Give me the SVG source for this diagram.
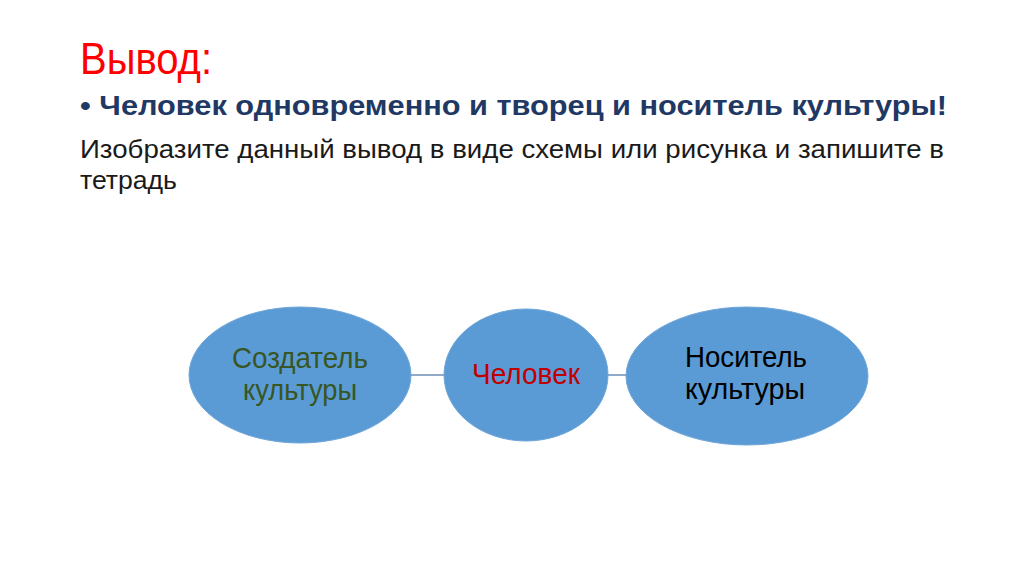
<svg xmlns="http://www.w3.org/2000/svg" width="1024" height="574" viewBox="0 0 1024 574">
<style>
text{font-family:"Liberation Sans","Noto Sans",sans-serif}
.node{fill:#5b9bd5;stroke:#6fa6d8;stroke-width:1}
.lbl{font-size:29px}
.conn{stroke:#6a8db3;stroke-width:1.5}
</style>
<rect width="1024" height="574" fill="#ffffff"/>
<text x="80" y="74" font-size="45" fill="#ff0000" textLength="132" lengthAdjust="spacingAndGlyphs">Вывод:</text>
<text x="80" y="115" font-size="28" font-weight="bold" fill="#1f3864" textLength="867" lengthAdjust="spacingAndGlyphs">• Человек одновременно и творец и носитель культуры!</text>
<text x="80" y="158" font-size="25" fill="#1a1a1a" textLength="864" lengthAdjust="spacingAndGlyphs">Изобразите данный вывод в виде схемы или рисунка и запишите в</text>
<text x="80" y="189" font-size="25" fill="#1a1a1a" textLength="97" lengthAdjust="spacingAndGlyphs">тетрадь</text>
<g id="connectors">
<line class="conn" x1="411" y1="375" x2="445" y2="375"/>
<line class="conn" x1="608" y1="375" x2="627" y2="375"/>
</g>
<g id="node-creator">
<ellipse class="node" cx="300" cy="375" rx="111" ry="68"/>
<text class="lbl" x="232" y="368" fill="#375623" textLength="136" lengthAdjust="spacingAndGlyphs">Создатель</text>
<text class="lbl" x="243" y="400" fill="#375623" textLength="114" lengthAdjust="spacingAndGlyphs">культуры</text>
</g>
<g id="node-human">
<ellipse class="node" cx="526" cy="375" rx="82" ry="66"/>
<text class="lbl" x="472" y="384" fill="#c00000" font-size="27" textLength="108" lengthAdjust="spacingAndGlyphs">Человек</text>
</g>
<g id="node-carrier">
<ellipse class="node" cx="747" cy="376" rx="121" ry="69"/>
<text class="lbl" x="685" y="367" fill="#000000" textLength="122" lengthAdjust="spacingAndGlyphs">Носитель</text>
<text class="lbl" x="685" y="399" fill="#000000" textLength="120" lengthAdjust="spacingAndGlyphs">культуры</text>
</g>
</svg>
